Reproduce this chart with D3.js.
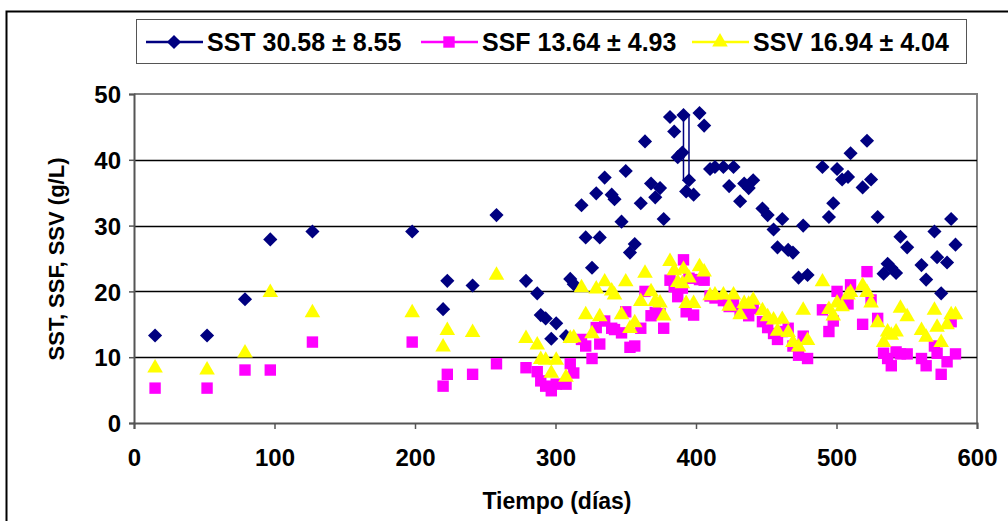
<!DOCTYPE html>
<html>
<head>
<meta charset="utf-8">
<script src="https://cdn.jsdelivr.net/npm/d3@7"></script>
<style>
  html, body { margin: 0; padding: 0; background: #fff; }
  svg text { font-family: Arial, "Liberation Sans", sans-serif; font-weight: bold; fill: #000; }
</style>
</head>
<body>
<svg id="chart" width="1008" height="521"></svg>
<script>
// Sampling days (días) shared by the three series
const days = [15, 52, 79, 97, 127, 198, 220, 223, 241, 258,
  279, 287, 289.5, 293, 297, 300.5, 307.5, 310.5, 313, 318.5,
  321.5, 326, 329, 331.5, 335, 340, 342, 347, 350, 353,
  356.4, 360.7, 363.7, 368, 371, 374.4, 377, 381.5, 384.5, 387,
  390.3, 391.1, 393, 395, 398.3, 402.5, 405.8, 410, 413.5, 419.5,
  423.6, 426.7, 431.4, 434.3, 437.5, 440.7, 447.3, 451, 455.2, 458,
  461.4, 465.6, 469, 473, 476.3, 479.4, 490, 494.6, 497.7, 500.4,
  504, 508.2, 510, 518.6, 521.7, 524.6, 529.3, 533.5, 536.4, 539,
  542.4, 545.5, 550.3, 560.5, 563.8, 569.7, 571.6, 574.5, 578.7, 581.6,
  584.7];

// Sólidos suspendidos totales (g/L)
const sst = [13.3, 13.3, 18.8, 27.9, 29.1, 29.1, 17.3, 21.6, 20.9, 31.6,
  21.6, 19.7, 16.4, 15.9, 12.8, 15.15, 13.2, 21.9, 21.1, 33.1,
  28.2, 23.6, 34.9, 28.2, 37.3, 34.7, 34.0, 30.6, 38.3, 25.9,
  27.2, 33.4, 42.8, 36.4, 34.3, 35.7, 31.0, 46.5, 44.3, 40.4,
  41.1, 46.8, 35.2, 36.9, 34.7, 47.1, 45.2, 38.6, 38.9, 38.9,
  36.0, 38.9, 33.7, 36.4, 35.7, 36.9, 32.6, 31.6, 29.4, 26.7,
  31.0, 26.3, 25.9, 22.1, 30.0, 22.5, 38.9, 31.3, 33.4, 38.6,
  37.0, 37.4, 41.0, 35.8, 42.9, 37.0, 31.3, 22.7, 24.2, 23.6,
  22.8, 28.3, 26.7, 24.0, 21.8, 29.1, 25.2, 19.7, 24.4, 31.0,
  27.1];

// Sólidos suspendidos fijos (g/L)
const ssf = [5.3, 5.3, 8.05, 8.05, 12.3, 12.3, 5.6, 7.4, 7.4, 9.0,
  8.4, 7.8, 6.4, 5.6, 4.9, 5.9, 5.9, 9.0, 7.6, 12.7,
  11.7, 9.8, 14.5, 12.0, 15.5, 14.4, 14.2, 13.7, 16.9, 11.5,
  11.7, 14.4, 20.0, 16.3, 16.8, 16.6, 14.4, 21.7, 20.7, 19.2,
  20.5, 24.8, 16.9, 22.0, 16.4, 21.8, 21.7, 19.3, 19.0, 18.6,
  17.7, 18.0, 17.1, 16.8, 16.3, 17.4, 15.4, 14.5, 13.6, 12.7,
  13.9, 14.4, 11.7, 10.3, 13.2, 9.8, 17.2, 13.9, 15.5, 20.0,
  18.5, 18.1, 21.0, 15.0, 23.0, 18.7, 15.9, 10.6, 9.8, 8.7,
  10.8, 10.5, 10.5, 9.8, 8.7, 11.7, 10.6, 7.4, 9.3, 15.4,
  10.5];

// Sólidos suspendidos volátiles (g/L)
const ssv = [8.5, 8.2, 10.8, 20.0, 16.9, 16.9, 11.7, 14.2, 13.9, 22.6,
  13.0, 12.0, 9.8, 9.7, 7.7, 9.7, 7.1, 13.0, 13.1, 20.7,
  16.6, 13.7, 20.5, 16.3, 21.6, 20.2, 19.6, 16.6, 21.6, 14.5,
  15.4, 18.6, 22.9, 20.1, 18.6, 18.4, 16.4, 24.7, 23.3, 21.5,
  21.3, 23.5, 18.3, 22.2, 18.3, 23.9, 23.1, 19.5, 19.6, 19.6,
  17.9, 19.6, 16.6, 18.3, 18.2, 18.8, 17.2, 16.3, 15.8, 14.1,
  15.9, 13.9, 12.4, 11.7, 17.3, 12.7, 21.6, 17.4, 16.4, 18.4,
  17.8, 19.6, 20.0, 21.0, 20.0, 18.4, 15.4, 12.4, 14.0, 13.5,
  14.0, 17.6, 16.3, 14.2, 13.2, 17.3, 14.7, 12.4, 15.1, 16.6,
  16.6];

// Legend labels (media ± desviación)
const seriesNames = ["SST 30.58 \u00b1 8.55", "SSF 13.64 \u00b1 4.93", "SSV 16.94 \u00b1 4.04"];
const xTicks = [0, 100, 200, 300, 400, 500, 600];
const yTicks = [0, 10, 20, 30, 40, 50];
// Pair of SST samples joined by a narrow frame near day 391-395
const sstFramePair = [41, 43];

const svg = d3.select("#chart");
const W = 1008, H = 521;
const plot = { left: 134, right: 977, top: 94, bottom: 423 };

const x = d3.scaleLinear().domain([0, 600]).range([plot.left, plot.right]);
const y = d3.scaleLinear().domain([0, 50]).range([plot.bottom, plot.top]);

// Outer chart frame
svg.append("rect").attr("x", 6.5).attr("y", 11.5).attr("width", W).attr("height", H)
  .attr("fill", "#fff").attr("stroke", "#000").attr("stroke-width", 2);

// Plot area frame (top and right in gray)
svg.append("path")
  .attr("d", `M${plot.left},${plot.top}H${plot.right}V${plot.bottom}`)
  .attr("fill", "none").attr("stroke", "#808080").attr("stroke-width", 2);

// Horizontal gridlines
svg.append("g").selectAll("line").data(yTicks.filter(t => t > 0 && t < 50)).join("line")
  .attr("x1", plot.left).attr("x2", plot.right)
  .attr("y1", d => Math.round(y(d)) + 0.5).attr("y2", d => Math.round(y(d)) + 0.5)
  .attr("stroke", "#000").attr("stroke-width", 1.5);

// Axes
const yAxis = svg.append("g").attr("transform", `translate(${plot.left},0)`)
  .call(d3.axisLeft(y).tickValues(yTicks).tickSize(5).tickPadding(8).tickFormat(d3.format("d")));
const xAxis = svg.append("g").attr("transform", `translate(0,${plot.bottom})`)
  .call(d3.axisBottom(x).tickValues(xTicks).tickSize(6).tickPadding(20).tickFormat(d3.format("d")));
[xAxis, yAxis].forEach(g => {
  g.select(".domain").attr("stroke", "#555").attr("stroke-width", 2);
  g.selectAll(".tick line").attr("stroke", "#555").attr("stroke-width", 1.5);
  g.selectAll(".tick text").style("font-size", "24px").style("font-weight", "bold").attr("fill", "#000");
});
yAxis.selectAll(".tick text").attr("dy", "0.36em");

// Axis titles
svg.append("text").attr("x", 557).attr("y", 509).attr("text-anchor", "middle")
  .style("font-size", "23px").text("Tiempo (días)");
svg.append("text").attr("transform", "translate(64,259) rotate(-90)").attr("text-anchor", "middle")
  .style("font-size", "22px").text("SST, SSF, SSV (g/L)");

// Marker generators: square rotated 45° for the diamonds
const diamond = d3.symbol().type(d3.symbolSquare).size(100);
const square = d3.symbol().type(d3.symbolSquare).size(130);
const triangle = d3.symbol().type(d3.symbolTriangle).size(105);

const colors = { sst: "#000080", ssf: "#FF00FF", ssv: "#FFFF00" };

function drawSeries(values, gen, color, cls, rot, dyShift) {
  svg.append("g").attr("class", cls).selectAll("path")
    .data(days.map((d, i) => [d, values[i]])).join("path")
    .attr("transform", d => `translate(${x(d[0])},${y(d[1]) + (dyShift || 0)}) rotate(${rot || 0})`)
    .attr("d", gen).attr("fill", color);
}

// SSF squares, then SST diamonds, then SSV triangles on top
drawSeries(ssf, square, colors.ssf, "ssf");
drawSeries(sst, diamond, colors.sst, "sst", 45);
// Narrow frame between the two SST samples of the day-391/395 pair
{
  const [a, b] = sstFramePair;
  const x0 = x(days[a]), x1 = x(days[b]);
  const y0 = y(sst[a]), y1 = y(sst[b]);
  svg.append("rect").attr("x", x0).attr("y", Math.min(y0, y1))
    .attr("width", x1 - x0).attr("height", Math.abs(y1 - y0))
    .attr("fill", "none").attr("stroke", colors.sst).attr("stroke-width", 1.5);
}
drawSeries(ssv, triangle, colors.ssv, "ssv", 0, 1);

// Legend
const lg = svg.append("g");
lg.append("rect").attr("x", 136.5).attr("y", 19.5).attr("width", 830).attr("height", 44)
  .attr("fill", "#fff").attr("stroke", "#555").attr("stroke-width", 1);
const legendItems = [
  { name: seriesNames[0], color: colors.sst, gen: diamond, rot: 45, x0: 146 },
  { name: seriesNames[1], color: colors.ssf, gen: square, rot: 0, x0: 421 },
  { name: seriesNames[2], color: colors.ssv, gen: triangle, rot: 0, x0: 692 }
];
legendItems.forEach(it => {
  const cy = 42;
  lg.append("line").attr("x1", it.x0).attr("x2", it.x0 + 57).attr("y1", cy).attr("y2", cy)
    .attr("stroke", it.color).attr("stroke-width", 2.5);
  lg.append("path").attr("transform", `translate(${it.x0 + 28},${cy}) rotate(${it.rot})`)
    .attr("d", it.gen).attr("fill", it.color);
  lg.append("text").attr("x", it.x0 + 61).attr("y", cy).attr("dy", "0.36em")
    .style("font-size", "25px").text(it.name);
});
</script>
</body>
</html>
